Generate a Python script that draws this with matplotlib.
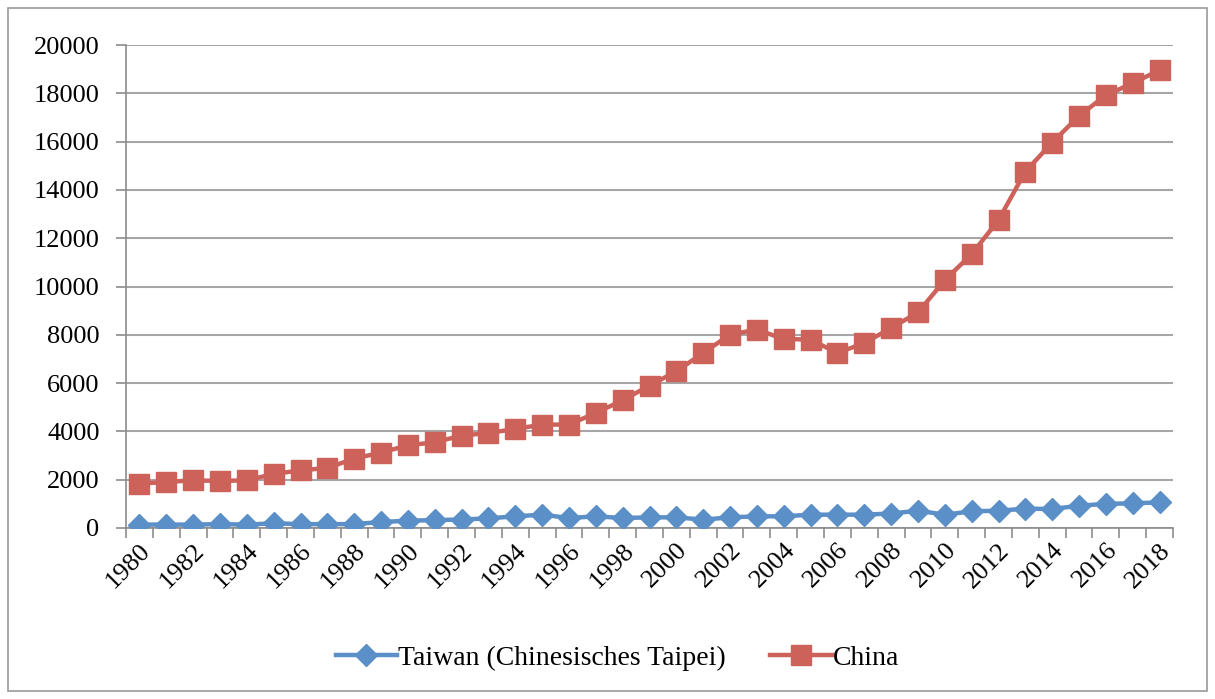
import matplotlib.pyplot as plt
from matplotlib.patches import Rectangle

# data
years = list(range(1980, 2019))
taiwan = [141, 141, 141, 160, 141, 195, 160, 160, 160, 250,
          300, 330, 350, 400, 483, 552, 414, 483, 414, 441,
          441, 345, 441, 483, 483, 552, 552, 552, 600, 717,
          552, 690, 717, 800, 786, 924, 1000, 1020, 1062]
china = [1838, 1905, 1975, 1946, 1975, 2236, 2389, 2484, 2874, 3122,
         3424, 3549, 3826, 3934, 4100, 4282, 4282, 4762, 5288, 5896,
         6489, 7247, 8008, 8215, 7826, 7801, 7247, 7660, 8280, 8925,
         10265, 11340, 12750, 14760, 15960, 17065, 17920, 18420, 18960]
labels = ['Taiwan (Chinesisches Taipei)', 'China']

plt.rcParams['font.family'] = ['Liberation Serif', 'DejaVu Serif']

fig = plt.figure(figsize=(12.15, 6.99), dpi=100)
ax = fig.add_axes([126 / 1215, 1 - 528 / 699, 1047 / 1215, 483 / 699])

# outer frame of the chart
fig.patches.append(Rectangle((8 / 1215, 8 / 699), 1199 / 1215, 683 / 699,
                             transform=fig.transFigure, fill=False,
                             edgecolor='#9a9a9a', linewidth=1.2))

x = list(range(len(years)))
ax.plot(x, taiwan, color='#5b8fc8', linewidth=3.2, marker='D', markersize=11.5,
        label=labels[0], zorder=3)
ax.plot(x, china, color='#cd625a', linewidth=3.2, marker='s', markersize=14,
        label=labels[1], zorder=3)

ax.set_xlim(-0.5, len(years) - 0.5)
ax.set_ylim(0, 20000)
ax.set_yticks(range(0, 20001, 2000))
ax.tick_params(axis='y', labelsize=19, length=7, color='#8c8c8c', width=1.2,
               pad=12)
ax.grid(axis='y', color='#a6a6a6', linewidth=1.5)
ax.set_axisbelow(True)

# category boundaries as tick marks, year labels under every other point
ax.set_xticks([i - 0.5 for i in range(len(years) + 1)])
ax.set_xticklabels([])
ax.tick_params(axis='x', length=7, color='#8c8c8c', width=1.2)
ax.set_xticks(x[::2], minor=True)
ax.set_xticklabels([str(y) for y in years[::2]], minor=True, rotation=45,
                   ha='right', rotation_mode='anchor', fontsize=19)
ax.tick_params(axis='x', which='minor', length=0, pad=8)

for side in ['top', 'right']:
    ax.spines[side].set_visible(False)
for side in ['left', 'bottom']:
    ax.spines[side].set_color('#8c8c8c')
    ax.spines[side].set_linewidth(1.2)

fig.legend(loc='center', bbox_to_anchor=(0.5 + 10 / 1215, 1 - 658 / 699), ncol=2,
           frameon=False, fontsize=20, handlelength=2.2, columnspacing=1.6,
           handletextpad=0.05)

fig.savefig('out.png', dpi=100)
